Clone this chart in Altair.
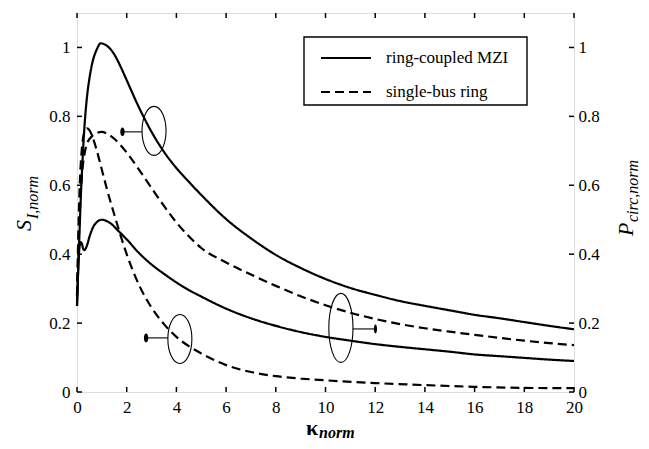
import altair as alt
import pandas as pd

# ---------------- data ----------------
series_names = ["ring-coupled MZI", "single-bus ring"]

# ring-coupled MZI, P_circ,norm (upper solid)
k_mzi_p = [0, 0.05, 0.1, 0.15, 0.2, 0.3, 0.4, 0.5, 0.6, 0.8, 0.95, 1.2, 1.5, 1.75, 2, 2.5,
           3, 3.5, 4, 4.5, 5, 6, 7, 8, 9, 10, 11, 12, 13, 14, 15, 16, 17, 18, 19, 20]
v_mzi_p = [0.25, 0.36, 0.46, 0.56, 0.64, 0.77, 0.855, 0.91, 0.95, 0.995, 1.012, 1.005, 0.98, 0.945,
           0.905, 0.825, 0.755, 0.697, 0.65, 0.61, 0.572, 0.502, 0.446, 0.398, 0.36, 0.328,
           0.302, 0.282, 0.264, 0.25, 0.237, 0.224, 0.214, 0.203, 0.192, 0.182]

# ring-coupled MZI, S_I,norm (lower solid)
k_mzi_s = [0, 0.05, 0.1, 0.15, 0.2, 0.25, 0.3, 0.4, 0.5, 0.7, 1.0, 1.3, 1.7, 2, 2.5, 3, 3.5, 4,
           4.5, 5, 6, 7, 8, 9, 10, 11, 12, 13, 14, 15, 16, 17, 18, 19, 20]
v_mzi_s = [0.25, 0.36, 0.42, 0.435, 0.43, 0.415, 0.412, 0.425, 0.45, 0.485, 0.50, 0.492, 0.465,
           0.443, 0.403, 0.37, 0.343, 0.318, 0.296, 0.277, 0.242, 0.214, 0.192, 0.174, 0.16, 0.149,
           0.139, 0.131, 0.124, 0.117, 0.109, 0.104, 0.099, 0.094, 0.09]

# single-bus ring, P_circ,norm (upper dashed)
k_sb_p = [0, 0.05, 0.1, 0.2, 0.3, 0.4, 0.6, 0.8, 1.0, 1.2, 1.5, 2, 2.5, 3, 3.5, 4, 4.5, 5, 6, 7,
          8, 9, 10, 11, 12, 13, 14, 15, 16, 17, 18, 19, 20]
v_sb_p = [0.28, 0.4, 0.5, 0.63, 0.69, 0.72, 0.742, 0.752, 0.755, 0.75, 0.735, 0.695, 0.645, 0.592,
          0.54, 0.492, 0.452, 0.418, 0.376, 0.341, 0.308, 0.278, 0.252, 0.23, 0.212, 0.197, 0.185,
          0.175, 0.166, 0.157, 0.149, 0.142, 0.136]

# single-bus ring, S_I,norm (lower dashed)
k_sb_s = [0, 0.05, 0.1, 0.2, 0.3, 0.4, 0.5, 0.6, 0.8, 1.0, 1.2, 1.5, 2, 2.5, 3, 3.5, 4, 4.5, 5, 6,
          7, 8, 9, 10, 12, 14, 16, 18, 20]
v_sb_s = [0.28, 0.45, 0.58, 0.71, 0.755, 0.765, 0.76, 0.745, 0.70, 0.645, 0.59, 0.515, 0.40, 0.31,
          0.245, 0.197, 0.16, 0.133, 0.112, 0.078, 0.058, 0.046, 0.039, 0.034, 0.026, 0.02, 0.015,
          0.012, 0.011]

x_ticks = [0, 2, 4, 6, 8, 10, 12, 14, 16, 18, 20]
y_ticks = [0, 0.2, 0.4, 0.6, 0.8, 1]

# annotation ellipses (centre in data units) and arrows
ell_k = [3.10, 4.14, 10.62]
ell_v = [0.758, 0.154, 0.186]
ell_kind = ["short", "short", "tall"]
arr_from = [2.62, 3.66, 11.10]
arr_to = [1.65, 2.60, 12.19]
arr_v = [0.755, 0.157, 0.183]

y_left_title = ["S", "I,norm"]
y_right_title = ["P", "circ,norm"]
x_title = ["\u03ba", "norm"]

# ---------------- chart ----------------
W, H = 497, 379
FONT = "Times New Roman, Liberation Serif, serif"

rows = []
for curve, style, ks, vs in [
    ("mzi_p", series_names[0], k_mzi_p, v_mzi_p),
    ("mzi_s", series_names[0], k_mzi_s, v_mzi_s),
    ("sb_p", series_names[1], k_sb_p, v_sb_p),
    ("sb_s", series_names[1], k_sb_s, v_sb_s),
]:
    for k, v in zip(ks, vs):
        rows.append({"curve": curve, "style": style, "k": k, "v": v})
df = pd.DataFrame(rows)

xscale = alt.Scale(domain=[0, 20], nice=False, zero=False)
yscale = alt.Scale(domain=[0, 1.1], nice=False)
dash_scale = alt.Scale(domain=series_names, range=[[1, 0], [9, 5]])

lab = dict(labelFont=FONT, labelFontSize=17, labelColor="black", domain=False, ticks=False,
           tickSize=0, grid=False, title=None, labelFlush=False, labelOverlap=False)
NOAX = alt.Axis(title=None)

lines = alt.Chart(df).mark_line(color="black", strokeWidth=2.2, interpolate="monotone").encode(
    x=alt.X("k:Q", scale=xscale, axis=alt.Axis(values=x_ticks, labelPadding=7, **lab)),
    y=alt.Y("v:Q", scale=yscale,
            axis=alt.Axis(values=y_ticks, format="~g", orient="left", labelPadding=7, **lab)),
    detail="curve:N",
    strokeDash=alt.StrokeDash("style:N", scale=dash_scale, legend=None),
)

xt = pd.DataFrame({"k": x_ticks})
yt = pd.DataFrame({"v": y_ticks})
tick_bottom = alt.Chart(xt).mark_rule(color="black", strokeWidth=1.5).encode(
    x=alt.X("k:Q", scale=xscale, axis=NOAX), y=alt.value(H), y2=alt.value(H - 5))
tick_top = alt.Chart(xt).mark_rule(color="black", strokeWidth=1.5).encode(
    x=alt.X("k:Q", scale=xscale, axis=NOAX), y=alt.value(0), y2=alt.value(5))
tick_left = alt.Chart(yt).mark_rule(color="black", strokeWidth=1.5).encode(
    y=alt.Y("v:Q", scale=yscale, axis=NOAX), x=alt.value(0), x2=alt.value(5))

# ellipses
ell_df = pd.DataFrame({"k": ell_k, "v": ell_v, "kind": ell_kind})
path_short = "M0,-1A0.49,1,0,1,1,0,1A0.49,1,0,1,1,0,-1Z"
path_tall = "M0,-1A0.35,1,0,1,1,0,1A0.35,1,0,1,1,0,-1Z"
ellipses = alt.Chart(ell_df).mark_point(filled=False, color="black", strokeWidth=1.1, opacity=1).encode(
    x=alt.X("k:Q", scale=xscale, axis=NOAX),
    y=alt.Y("v:Q", scale=yscale, axis=NOAX),
    shape=alt.Shape("kind:N", scale=alt.Scale(domain=["short", "tall"], range=[path_short, path_tall]), legend=None),
    size=alt.Size("kind:N", scale=alt.Scale(domain=["short", "tall"], range=[2401, 4761]), legend=None),
)

# arrows
arr_df = pd.DataFrame({"k0": arr_from, "k1": arr_to, "v": arr_v})
arr_df["dir"] = ["left" if b < a else "right" for a, b in zip(arr_from, arr_to)]
arr_df["kh"] = [b + (0.18 if b < a else -0.18) for a, b in zip(arr_from, arr_to)]
head_left = "M-1,0L1,-0.75L1,0.75Z"
head_right = "M1,0L-1,-0.75L-1,0.75Z"
shafts = alt.Chart(arr_df).mark_rule(color="black", strokeWidth=1.1).encode(
    x=alt.X("k0:Q", scale=xscale, axis=NOAX), x2="kh:Q",
    y=alt.Y("v:Q", scale=yscale, axis=NOAX))
heads = alt.Chart(arr_df).mark_point(filled=True, color="black", opacity=1, size=80, strokeWidth=0).encode(
    x=alt.X("kh:Q", scale=xscale, axis=NOAX),
    y=alt.Y("v:Q", scale=yscale, axis=NOAX),
    shape=alt.Shape("dir:N", scale=alt.Scale(domain=["left", "right"], range=[head_left, head_right]), legend=None),
)

# legend (drawn by hand)
legend_box = alt.Chart(pd.DataFrame({"a": [0]})).mark_rect(fill="white", stroke="black", strokeWidth=1.4).encode(
    x=alt.value(227), x2=alt.value(450), y=alt.value(24), y2=alt.value(92))
legend_layers = [legend_box]
for i, name in enumerate(series_names):
    d = pd.DataFrame({"s": [name]})
    legend_layers.append(alt.Chart(d).mark_rule(color="black", strokeWidth=2.2).encode(
        x=alt.value(244), x2=alt.value(294), y=alt.value(45 + 34 * i),
        strokeDash=alt.StrokeDash("s:N", scale=dash_scale, legend=None)))
    legend_layers.append(alt.Chart(d).mark_text(font=FONT, fontSize=17, color="black", align="left",
                                                baseline="middle").encode(
        x=alt.value(309), y=alt.value(45 + 34 * i), text="s:N"))


def txt(s, x, y, size, style="italic", weight="normal", angle=0):
    return alt.Chart(pd.DataFrame({"s": [s]})).mark_text(
        font=FONT, fontSize=size, fontStyle=style, fontWeight=weight, angle=angle,
        align="left", baseline="alphabetic", color="black").encode(
        x=alt.value(x), y=alt.value(y), text="s:N")


titles = [
    txt(y_left_title[0], -46, 218, 22, angle=270),
    txt(y_left_title[1], -39, 206, 16, angle=270),
    txt(y_right_title[0], 556, 223, 22, angle=270),
    txt(y_right_title[1], 561, 209, 16, angle=270),
    txt(x_title[0], 229, 422, 22, style="normal", weight="bold"),
    txt(x_title[1], 242, 425, 16, weight="bold"),
]

left = alt.layer(lines, tick_bottom, tick_top, tick_left, ellipses, shafts, heads,
                 *legend_layers, *titles)

right = alt.Chart(yt).mark_rule(color="black", strokeWidth=1.5).encode(
    y=alt.Y("v:Q", scale=yscale,
            axis=alt.Axis(values=y_ticks, format="~g", orient="right", labelPadding=4, **lab)),
    x=alt.value(W), x2=alt.value(W - 5))

chart = alt.layer(left, right).resolve_scale(y="independent").properties(
    width=W, height=H, autosize="none",
    padding={"left": 69, "top": 5, "right": 66, "bottom": 48},
).configure_view(stroke="black", strokeWidth=2.2).configure(background="white")

chart.save("out.html", embed_options={"renderer": "svg", "actions": False})
